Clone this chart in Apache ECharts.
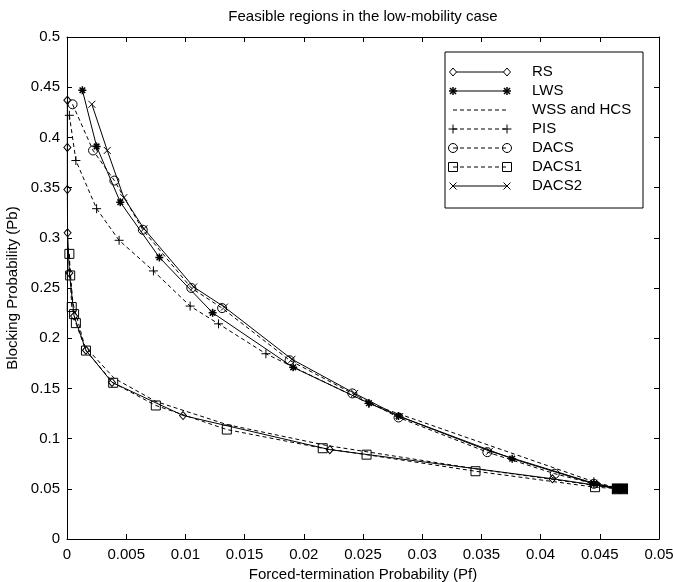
<!DOCTYPE html>
<html>
<head>
<meta charset="utf-8">
<script src="https://cdn.jsdelivr.net/npm/echarts@6/dist/echarts.min.js"></script>
<style>html,body{margin:0;padding:0;background:#fff}#c{width:673px;height:582px}</style>
</head>
<body>
<div id="c"></div>
<script>
const xTickLabels = ['0','0.005','0.01','0.015','0.02','0.025','0.03','0.035','0.04','0.045','0.05'];
const yTickLabels = ['0','0.05','0.1','0.15','0.2','0.25','0.3','0.35','0.4','0.45','0.5'];
const seriesNames = ['RS','LWS','WSS and HCS','PIS','DACS','DACS1','DACS2'];

const RS = [[0.00003,0.437],[0.00003,0.390],[0.00003,0.348],[0.00005,0.305],[0.0002,0.265],[0.0006,0.222],[0.0016,0.188],[0.0038,0.156],[0.0098,0.123],[0.0222,0.089],[0.0410,0.060],[0.0467,0.050]];
const LWS = [[0.0013,0.447],[0.0025,0.391],[0.0045,0.3355],[0.0078,0.2805],[0.0123,0.2253],[0.0191,0.171],[0.0255,0.1353],[0.0280,0.1225],[0.0376,0.080],[0.0445,0.055],[0.0467,0.050]];
const WSS_HCS = [[0.0001,0.290],[0.0005,0.235],[0.0015,0.192],[0.0040,0.160],[0.0075,0.137],[0.0135,0.114],[0.0220,0.093],[0.0345,0.070],[0.0467,0.050]];
const PIS = [[0.0002,0.422],[0.00075,0.377],[0.0025,0.329],[0.0044,0.2975],[0.0073,0.267],[0.0104,0.232],[0.0128,0.2143],[0.0168,0.1845],[0.0255,0.135],[0.0445,0.057],[0.0467,0.050]];
const DACS = [[0.00047,0.433],[0.0022,0.387],[0.0040,0.357],[0.0064,0.308],[0.0105,0.250],[0.0131,0.230],[0.0188,0.178],[0.0241,0.145],[0.0280,0.121],[0.0355,0.0865],[0.0412,0.065],[0.0445,0.055],[0.0467,0.050]];
const DACS1 = [[0.0002,0.284],[0.00027,0.2625],[0.0004,0.231],[0.0006,0.224],[0.00075,0.215],[0.0016,0.1877],[0.0039,0.1556],[0.0075,0.133],[0.0135,0.109],[0.0216,0.0904],[0.0253,0.084],[0.0345,0.0675],[0.0446,0.0516],[0.0467,0.050]];
const DACS2 = [[0.0021,0.433],[0.0034,0.387],[0.0048,0.340],[0.0065,0.309],[0.0107,0.251],[0.0133,0.231],[0.0190,0.179],[0.0243,0.145],[0.0281,0.122],[0.0357,0.0875],[0.0445,0.0555],[0.0467,0.050]];

const FONT = 'Liberation Sans, Arial, Helvetica, sans-serif';
const DASH = [4,3];
const SYM = {
  diamond: 'diamond',
  star: 'path://M5,0L5,10M0,5L10,5M1.5,1.5L8.5,8.5M8.5,1.5L1.5,8.5',
  plus: 'path://M5,0L5,10M0,5L10,5',
  circle: 'circle',
  square: 'rect',
  cross: 'path://M0,0L10,10M10,0L0,10',
  none: 'none'
};
const specs = [
  {name: seriesNames[0], data: RS, dash: false, sym: 'diamond', size: [7,8]},
  {name: seriesNames[1], data: LWS, dash: false, sym: 'star', size: 8, bw: 1.5},
  {name: seriesNames[2], data: WSS_HCS, dash: true, sym: 'none', size: 0},
  {name: seriesNames[3], data: PIS, dash: true, sym: 'plus', size: 9},
  {name: seriesNames[4], data: DACS, dash: true, sym: 'circle', size: 9},
  {name: seriesNames[5], data: DACS1, dash: true, sym: 'square', size: 9, endBlock: true},
  {name: seriesNames[6], data: DACS2, dash: false, sym: 'cross', size: 7}
];

const series = specs.map((s, i) => {
  const data = s.data.map((p, j) => {
    if (s.endBlock && j === s.data.length - 1) {
      return {value: p, symbolSize: [15, 10], itemStyle: {color: '#000', borderColor: '#000'}};
    }
    return p;
  });
  return {
    name: s.name, type: 'line', data: data,
    symbol: SYM[s.sym], symbolSize: s.size, showSymbol: s.sym !== 'none',
    z: s.endBlock ? 5 : 3,
    clip: false,
    lineStyle: {color: '#000', width: 1, type: s.dash ? DASH : 'solid'},
    itemStyle: {color: 'rgba(0,0,0,0)', borderColor: '#000', borderWidth: s.bw || 1},
    emphasis: {disabled: true},
    silent: true
  };
});

// Legend drawn as graphics (MATLAB style: marker at both ends)
const LX0 = 453, LX1 = 507, LY0 = 72, LDY = 19, LTX = 532;
function symGraphics(kind, cx, cy) {
  const ln = (x1,y1,x2,y2,w) => ({type:'line', shape:{x1:cx+x1,y1:cy+y1,x2:cx+x2,y2:cy+y2}, style:{stroke:'#000', lineWidth:w||1}});
  switch (kind) {
    case 'diamond': return [{type:'polygon', shape:{points:[[cx,cy-4],[cx+3.5,cy],[cx,cy+4],[cx-3.5,cy]]}, style:{stroke:'#000', lineWidth:1, fill:'#fff'}}];
    case 'circle': return [{type:'circle', shape:{cx:cx, cy:cy, r:4.5}, style:{stroke:'#000', lineWidth:1, fill:'none'}}];
    case 'square': return [{type:'rect', shape:{x:cx-4.5, y:cy-4.5, width:9, height:9}, style:{stroke:'#000', lineWidth:1, fill:'none'}}];
    case 'plus': return [ln(0,-4.5,0,4.5), ln(-4.5,0,4.5,0)];
    case 'cross': return [ln(-3.5,-3.5,3.5,3.5), ln(3.5,-3.5,-3.5,3.5)];
    case 'star': return [ln(0,-4,0,4,1.5), ln(-4,0,4,0,1.5), ln(-3,-3,3,3,1.5), ln(3,-3,-3,3,1.5)];
  }
  return [];
}
const legendEls = [{type:'rect', shape:{x:445, y:52, width:198, height:156}, style:{fill:'#fff', stroke:'#000', lineWidth:1}, z:10}];
specs.forEach((s, i) => {
  const y = LY0 + i * LDY;
  legendEls.push({type:'line', shape:{x1:LX0, y1:y, x2:LX1, y2:y}, style:{stroke:'#000', lineWidth:1, lineDash: s.dash ? DASH : null}, z:11});
  if (s.sym !== 'none') {
    symGraphics(s.sym, LX0, y).concat(symGraphics(s.sym, LX1, y)).forEach(g => { g.z = 12; legendEls.push(g); });
  }
  legendEls.push({type:'text', x: LTX, y: y, style:{text: s.name, fill:'#000', font: '15px ' + FONT, textVerticalAlign:'middle'}, z:12});
});
// Title as centered text over the plot area
legendEls.push({type:'text', x: 363, y: 17, style:{text: 'Feasible regions in the low-mobility case', fill:'#000', font: '15px ' + FONT, textAlign:'center', textVerticalAlign:'middle'}, z:12});

const axisCommon = {
  type: 'value',
  axisLine: {show: true, onZero: false, lineStyle: {color: '#000', width: 1}},
  axisTick: {show: true, inside: true, length: 5, lineStyle: {color: '#000', width: 1}},
  splitLine: {show: false},
  minorTick: {show: false}
};
const xFmt = v => xTickLabels[Math.round(v / 0.005)];
const yFmt = v => yTickLabels[Math.round(v / 0.05)];

const option = {
  animation: false,
  backgroundColor: '#fff',
  grid: {left: 67, right: 14, top: 37, bottom: 43, containLabel: false, outerBoundsMode: 'none'},
  xAxis: [
    Object.assign({}, axisCommon, {
      position: 'bottom', min: 0, max: 0.05, interval: 0.005,
      axisLabel: {formatter: xFmt, color: '#000', fontFamily: FONT, fontSize: 15, margin: 8},
      name: 'Forced-termination Probability (Pf)', nameLocation: 'middle', nameGap: 26,
      nameTextStyle: {fontFamily: FONT, fontSize: 15, color: '#000'}
    }),
    Object.assign({}, axisCommon, {
      position: 'top', min: 0, max: 0.05, interval: 0.005, axisLabel: {show: false}
    })
  ],
  yAxis: [
    Object.assign({}, axisCommon, {
      position: 'left', min: 0, max: 0.5, interval: 0.05,
      axisLabel: {formatter: yFmt, color: '#000', fontFamily: FONT, fontSize: 15, margin: 7},
      name: 'Blocking Probability (Pb)', nameLocation: 'middle', nameGap: 38,
      nameTextStyle: {fontFamily: FONT, fontSize: 15, color: '#000'}
    }),
    Object.assign({}, axisCommon, {
      position: 'right', min: 0, max: 0.5, interval: 0.05, axisLabel: {show: false}
    })
  ],
  series: series,
  graphic: legendEls
};

const chart = echarts.init(document.getElementById('c'), null, {renderer: 'canvas'});
chart.setOption(option);
</script>
</body>
</html>
